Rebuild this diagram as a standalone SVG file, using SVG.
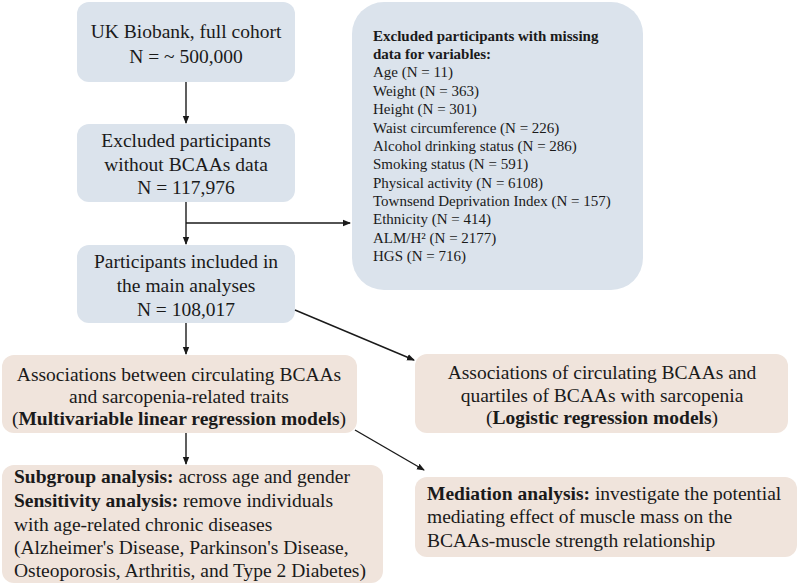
<svg xmlns="http://www.w3.org/2000/svg" width="798" height="584" viewBox="0 0 798 584">
<defs>
<marker id="ah" markerWidth="8" markerHeight="8" refX="7" refY="4" orient="auto" markerUnits="userSpaceOnUse">
<path d="M0,0.8 L8,4 L0,7.2 Z" fill="#1a1a1a"/>
</marker>
<style>
.blue{fill:#dbe3ec}
.pink{fill:#f0e4dc}
text{font-family:"Liberation Serif","Times New Roman",serif;fill:#1a1a1a}
.m{font-size:19.5px;text-anchor:middle}
.l{font-size:19.5px}
.s{font-size:15px}
.b{font-weight:bold}
.c{fill:none;stroke:#1a1a1a;stroke-width:1.4}
</style>
</defs>
<rect width="798" height="584" fill="#ffffff"/>
<g id="n1">
<rect class="blue" x="77" y="2" width="218" height="80" rx="12"/>
<text class="m" x="186" y="38">UK Biobank, full cohort</text>
<text class="m" x="186" y="63">N = ~ 500,000</text>
</g>
<g id="n2">
<rect class="blue" x="77" y="124" width="218" height="78" rx="12"/>
<text class="m" x="186" y="147">Excluded participants</text>
<text class="m" x="186" y="171">without BCAAs data</text>
<text class="m" x="186" y="194">N = 117,976</text>
</g>
<g id="n3">
<rect class="blue" x="77" y="245" width="218" height="78" rx="12"/>
<text class="m" x="186" y="268">Participants included in</text>
<text class="m" x="186" y="292">the main analyses</text>
<text class="m" x="186" y="316">N = 108,017</text>
</g>
<g id="excl">
<rect class="blue" x="352" y="2" width="291" height="288" rx="32"/>
<text class="s b" x="373" y="41">Excluded participants with missing</text>
<text class="s b" x="373" y="59">data for variables:</text>
<text class="s" x="373" y="77">Age (N = 11)</text>
<text class="s" x="373" y="96">Weight (N = 363)</text>
<text class="s" x="373" y="114">Height (N = 301)</text>
<text class="s" x="373" y="133">Waist circumference (N = 226)</text>
<text class="s" x="373" y="151">Alcohol drinking status (N = 286)</text>
<text class="s" x="373" y="169">Smoking status (N = 591)</text>
<text class="s" x="373" y="188">Physical activity (N = 6108)</text>
<text class="s" x="373" y="206">Townsend Deprivation Index (N = 157)</text>
<text class="s" x="373" y="224">Ethnicity (N = 414)</text>
<text class="s" x="373" y="243">ALM/H² (N = 2177)</text>
<text class="s" x="373" y="261">HGS (N = 716)</text>
</g>
<g id="n4">
<rect class="pink" x="2" y="355" width="355" height="78" rx="12"/>
<text class="m" x="179" y="381">Associations between circulating BCAAs</text>
<text class="m" x="179" y="403">and sarcopenia-related traits</text>
<text class="m" x="179" y="425">(<tspan class="b">Multivariable linear regression models</tspan>)</text>
</g>
<g id="n5">
<rect class="pink" x="415" y="354" width="373" height="79" rx="12"/>
<text class="m" x="602" y="379">Associations of circulating BCAAs and</text>
<text class="m" x="602" y="402">quartiles of BCAAs with sarcopenia</text>
<text class="m" x="602" y="424">(<tspan class="b">Logistic regression models</tspan>)</text>
</g>
<g id="n6">
<rect class="pink" x="2" y="465" width="381" height="118" rx="12"/>
<text class="l" x="14" y="483"><tspan class="b">Subgroup analysis:</tspan> across age and gender</text>
<text class="l" x="14" y="507"><tspan class="b">Sensitivity analysis:</tspan> remove individuals</text>
<text class="l" x="14" y="531">with age-related chronic diseases</text>
<text class="l" x="14" y="554">(Alzheimer's Disease, Parkinson's Disease,</text>
<text class="l" x="14" y="577">Osteoporosis, Arthritis, and Type 2 Diabetes)</text>
</g>
<g id="n7">
<rect class="pink" x="415" y="477" width="382" height="80" rx="12"/>
<text class="l" x="427" y="500"><tspan class="b">Mediation analysis:</tspan> investigate the potential</text>
<text class="l" x="427" y="523">mediating effect of muscle mass on the</text>
<text class="l" x="427" y="547">BCAAs-muscle strength relationship</text>
</g>
<g id="connectors">
<line class="c" x1="186" y1="82" x2="186" y2="123" marker-end="url(#ah)"/>
<line class="c" x1="186" y1="202" x2="186" y2="244" marker-end="url(#ah)"/>
<line class="c" x1="186" y1="223" x2="350" y2="223" marker-end="url(#ah)"/>
<line class="c" x1="186" y1="323" x2="186" y2="354" marker-end="url(#ah)"/>
<line class="c" x1="295" y1="310" x2="414" y2="360" marker-end="url(#ah)"/>
<line class="c" x1="186" y1="433" x2="186" y2="464" marker-end="url(#ah)"/>
<line class="c" x1="355" y1="430" x2="424" y2="470" marker-end="url(#ah)"/>
</g>
</svg>
